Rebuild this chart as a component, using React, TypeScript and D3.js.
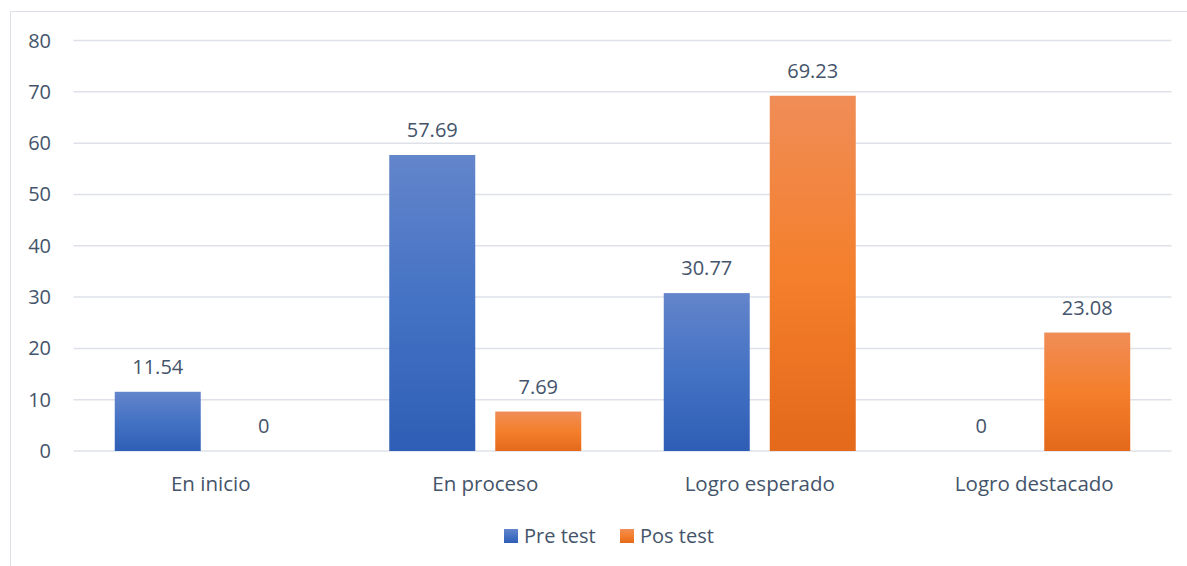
import React from "react";
import * as d3 from "d3";

const categories = ["En inicio", "En proceso", "Logro esperado", "Logro destacado"];
const seriesNames = ["Pre test", "Pos test"];
const preTest = [11.54, 57.69, 30.77, 0];
const posTest = [0, 7.69, 69.23, 23.08];
const yTicks = [0, 10, 20, 30, 40, 50, 60, 70, 80];

const W = 1187;
const H = 566;
const textColor = "#44546A";
const font = "'Open Sans', sans-serif";

export default function App() {
  const x = d3.scaleBand<string>().domain(categories).range([73.5, 1171.5]).padding(0);
  const xs = d3
    .scaleBand<string>()
    .domain(seriesNames)
    .range([0, x.bandwidth()])
    .paddingInner(0.1887)
    .paddingOuter(0.3892);
  const y = d3.scaleLinear().domain([0, 80]).range([451, 40.5]);
  const series = [preTest, posTest];
  const grads = ["url(#gBlue)", "url(#gOrange)"];

  return (
    <svg
      width={W}
      height={H}
      style={{ position: "absolute", left: 0, top: 0, background: "#fff" }}
      fontFamily={font}
    >
      <defs>
        <linearGradient id="gBlue" x1="0" y1="0" x2="0" y2="1">
          <stop offset="0" stopColor="#6385CB" />
          <stop offset="0.5" stopColor="#4472C4" />
          <stop offset="1" stopColor="#2E5EB5" />
        </linearGradient>
        <linearGradient id="gOrange" x1="0" y1="0" x2="0" y2="1">
          <stop offset="0" stopColor="#F08D57" />
          <stop offset="0.5" stopColor="#F47F2C" />
          <stop offset="1" stopColor="#E4691A" />
        </linearGradient>
      </defs>
      <rect x={10.5} y={11.5} width={1180} height={570} fill="none" stroke="#DCE0E6" strokeWidth={1} />
      {yTicks.map((t) => (
        <g key={t}>
          <line x1={73.5} x2={1171.5} y1={y(t)} y2={y(t)} stroke="#DEE2E8" strokeWidth={1.5} />
          <text x={51} y={y(t) + 7} textAnchor="end" fontSize={20} fill={textColor}>
            {t}
          </text>
        </g>
      ))}
      {categories.map((c, i) => (
        <g key={c} transform={`translate(${x(c)},0)`}>
          {series.map((s, j) => {
            const v = s[i];
            const bx = xs(seriesNames[j])!;
            return (
              <g key={j}>
                {v > 0 && (
                  <rect x={bx} y={y(v)} width={xs.bandwidth()} height={y(0) - y(v)} fill={grads[j]} />
                )}
                <text
                  x={bx + xs.bandwidth() / 2}
                  y={y(v) - 18}
                  textAnchor="middle"
                  fontSize={20}
                  fill={textColor}
                >
                  {String(v)}
                </text>
              </g>
            );
          })}
          <text x={x.bandwidth() / 2} y={491} textAnchor="middle" fontSize={20.5} fill={textColor}>
            {c}
          </text>
        </g>
      ))}
      <g>
        <rect x={504} y={529} width={14} height={14} fill="url(#gBlue)" />
        <text x={524} y={543} fontSize={20} fill={textColor}>
          {seriesNames[0]}
        </text>
        <rect x={620} y={529} width={14} height={14} fill="url(#gOrange)" />
        <text x={640} y={543} fontSize={20} fill={textColor}>
          {seriesNames[1]}
        </text>
      </g>
    </svg>
  );
}
